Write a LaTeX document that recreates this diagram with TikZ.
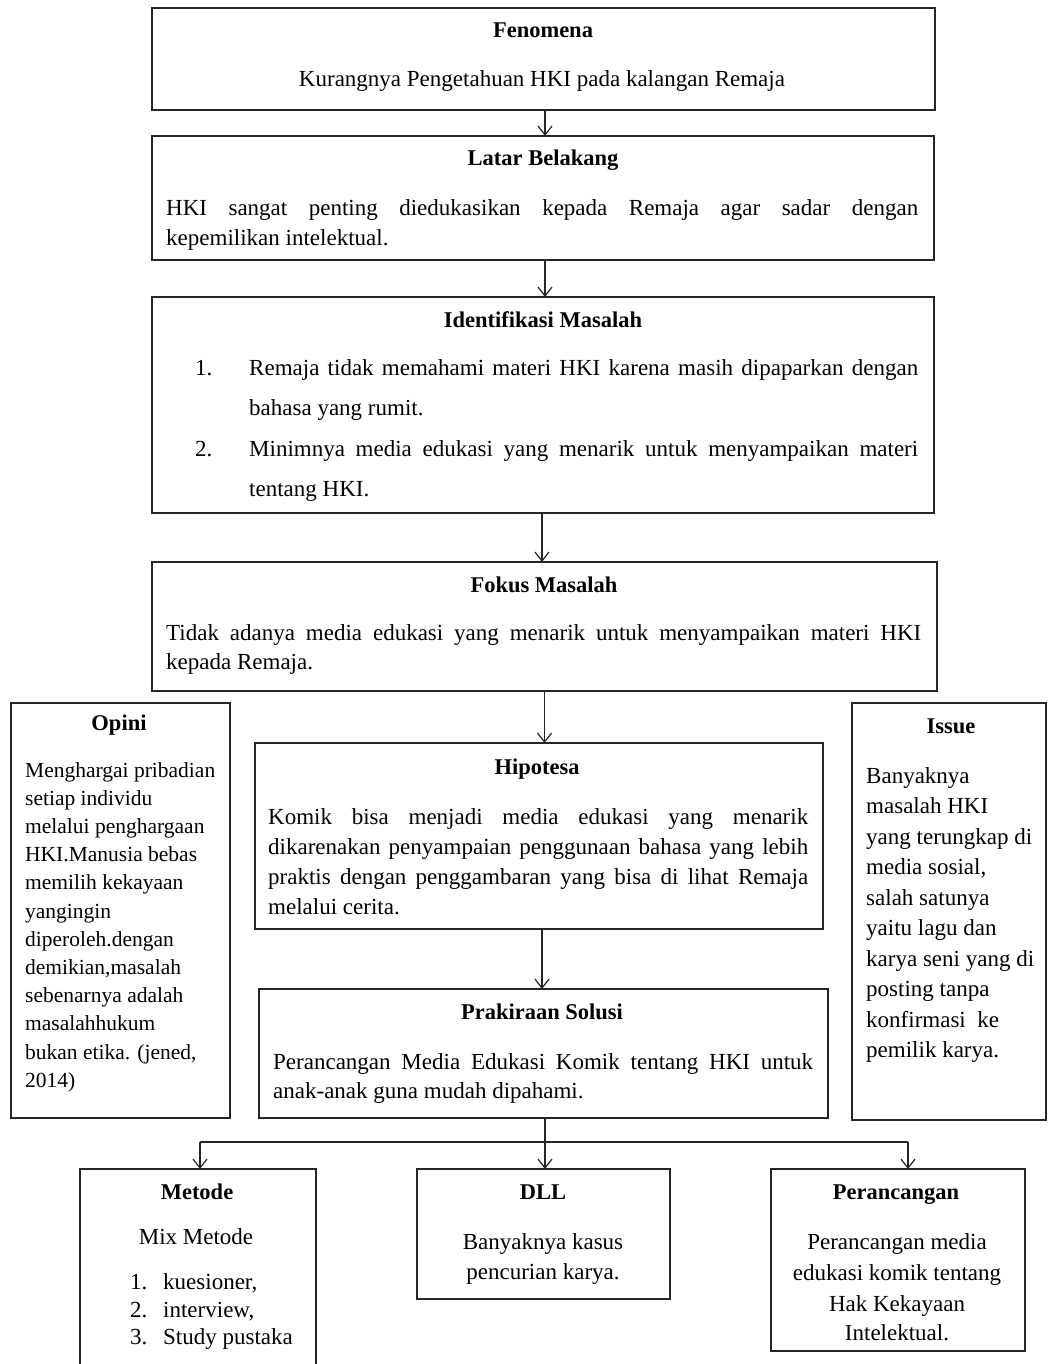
\documentclass[tikz,border=0pt]{standalone}
\usepackage{fontspec}
\setmainfont{Liberation Serif}
\usetikzlibrary{arrows.meta}
\newcommand{\bodyf}{\fontsize{23}{29}\selectfont}
\newcommand{\opif}{\fontsize{21.5}{28}\selectfont}
\newcommand{\titf}{\fontsize{22.5}{28}\selectfont\bfseries}
\newcommand{\jl}[2]{\makebox[#1][s]{#2}}
\tikzset{
 box/.style={draw=black!85, line width=1.5pt, anchor=north west, inner sep=0pt, outer sep=0pt},
 ttl/.style={anchor=base, inner sep=0pt, font=\titf},
 ln/.style={anchor=base west, inner sep=0pt, font=\bodyf},
 lnc/.style={anchor=base, inner sep=0pt, font=\bodyf},
 arr/.style={draw=black!85, line width=1.2pt, -{Straight Barb[length=9pt,width=14pt]}},
 conn/.style={draw=black!85, line width=1.2pt},
}
\begin{document}
\begin{tikzpicture}[x=1pt,y=-1pt]
\clip (0,0) rectangle (1048,1364);
\fill[white] (0,0) rectangle (1048,1364);
% boxes
\node[box, minimum width=783pt, minimum height=102pt] (fen) at (152,8) {};
\node[box, minimum width=782pt, minimum height=124pt] (lat) at (152,136) {};
\node[box, minimum width=782pt, minimum height=216pt] (idm) at (152,297) {};
\node[box, minimum width=785pt, minimum height=129pt] (fok) at (152,562) {};
\node[box, minimum width=568pt, minimum height=186pt] (hip) at (255,743) {};
\node[box, minimum width=569pt, minimum height=129pt] (pra) at (259,989) {};
\node[box, minimum width=219pt, minimum height=415pt] (opi) at (11,703) {};
\node[box, minimum width=194pt, minimum height=417pt] (iss) at (852,703) {};
\node[box, minimum width=236pt, minimum height=220pt] (met) at (80,1169) {};
\node[box, minimum width=253pt, minimum height=130pt] (dll) at (417,1169) {};
\node[box, minimum width=254pt, minimum height=182pt] (per) at (771,1169) {};
% Fenomena
\node[ttl] (fenT) at (543,38) {Fenomena};
\node[lnc] (fenX) at (542,87) {Kurangnya Pengetahuan HKI pada kalangan Remaja};
% Latar Belakang
\node[ttl] (latT) at (543,166) {Latar Belakang};
\node[ln] (lat1) at (166,216) {\jl{752pt}{HKI sangat penting diedukasikan kepada Remaja agar sadar dengan}};
\node[ln] (lat2) at (166,245) {kepemilikan intelektual.};
% Identifikasi Masalah
\node[ttl] (idmT) at (543,327) {Identifikasi Masalah};
\node[ln] (idmN1) at (195,375) {1.};
\node[ln] (idm1a) at (249,375) {\jl{669pt}{Remaja tidak memahami materi HKI karena masih dipaparkan dengan}};
\node[ln] (idm1b) at (249,415) {bahasa yang rumit.};
\node[ln] (idmN2) at (195,456) {2.};
\node[ln] (idm2a) at (249,456) {\jl{669pt}{Minimnya media edukasi yang menarik untuk menyampaikan materi}};
\node[ln] (idm2b) at (249,496) {tentang HKI.};
% Fokus Masalah
\node[ttl] (fokT) at (544,592) {Fokus Masalah};
\node[ln] (fok1) at (166,640) {\jl{755pt}{Tidak adanya media edukasi yang menarik untuk menyampaikan materi HKI}};
\node[ln] (fok2) at (166,669) {kepada Remaja.};
% Hipotesa
\node[ttl] (hipT) at (537,774) {Hipotesa};
\node[ln] (hip1) at (268,824) {\jl{540pt}{Komik bisa menjadi media edukasi yang menarik}};
\node[ln] (hip2) at (268,854) {\jl{540pt}{dikarenakan penyampaian penggunaan bahasa yang lebih}};
\node[ln] (hip3) at (268,884) {\jl{540pt}{praktis dengan penggambaran yang bisa di lihat Remaja}};
\node[ln] (hip4) at (268,914) {melalui cerita.};
% Prakiraan Solusi
\node[ttl] (praT) at (542,1019) {Prakiraan Solusi};
\node[ln] (pra1) at (273,1069) {\jl{540pt}{Perancangan Media Edukasi Komik tentang HKI untuk}};
\node[ln] (pra2) at (273,1098) {anak-anak guna mudah dipahami.};
% Opini
\node[ttl] (opiT) at (119,730) {Opini};
\foreach \t [count=\i from 0] in {{Menghargai pribadian},{setiap individu},{melalui penghargaan},{HKI.Manusia bebas},{memilih kekayaan},{yangingin},{diperoleh.dengan},{demikian,masalah},{sebenarnya adalah},{masalahhukum},{bukan etika. (jened,},{2014)}}
  \node[ln, font=\opif] (opi\i) at (25,{777+28.2*\i}) {\t};
% Issue
\node[ttl] (issT) at (951,733) {Issue};
\foreach \t [count=\i from 0] in {{Banyaknya},{masalah HKI},{yang terungkap di},{media sosial,},{salah satunya},{yaitu lagu dan},{karya seni yang di},{posting tanpa},{konfirmasi\ \ ke},{pemilik karya.}}
  \node[ln] (iss\i) at (866,{783+30.55*\i}) {\t};
% Metode
\node[ttl] (metT) at (197,1199) {Metode};
\node[lnc] (metX) at (196,1244) {Mix Metode};
\node[ln] (metN1) at (130,1289) {1.};
\node[ln] (met1) at (163,1289) {kuesioner,};
\node[ln] (metN2) at (130,1317) {2.};
\node[ln] (met2) at (163,1317) {interview,};
\node[ln] (metN3) at (130,1344) {3.};
\node[ln] (met3) at (163,1344) {Study pustaka};
% DLL
\node[ttl] (dllT) at (543,1199) {DLL};
\node[lnc] (dll1) at (543,1249) {Banyaknya kasus};
\node[lnc] (dll2) at (543,1279) {pencurian karya.};
% Perancangan
\node[ttl] (perT) at (896,1199) {Perancangan};
\node[lnc] (per1) at (897,1249) {Perancangan media};
\node[lnc] (per2) at (897,1280) {edukasi komik tentang};
\node[lnc] (per3) at (897,1311) {Hak Kekayaan};
\node[lnc] (per4) at (897,1340) {Intelektual.};
% connectors
\draw[arr] ([xshift=1.5pt]fen.south) -- ([xshift=1.5pt]fen.south |- lat.north);
\draw[arr] ([xshift=2pt]lat.south) -- ([xshift=2pt]lat.south |- idm.north);
\draw[arr] ([xshift=-1pt]idm.south) -- ([xshift=-1pt]idm.south |- fok.north);
\draw[arr] (fok.south) -- (fok.south |- hip.north);
\draw[arr] ([xshift=3pt]hip.south) -- ([xshift=3pt]hip.south |- pra.north);
\draw[arr] ([xshift=1.5pt]pra.south) -- ([xshift=1.5pt]pra.south |- dll.north);
\coordinate (bl) at (200,1142);
\coordinate (br) at (908,1142);
\draw[conn] (bl) -- (br);
\draw[arr] (bl) -- (bl |- met.north);
\draw[arr] (br) -- (br |- per.north);
\end{tikzpicture}
\end{document}
